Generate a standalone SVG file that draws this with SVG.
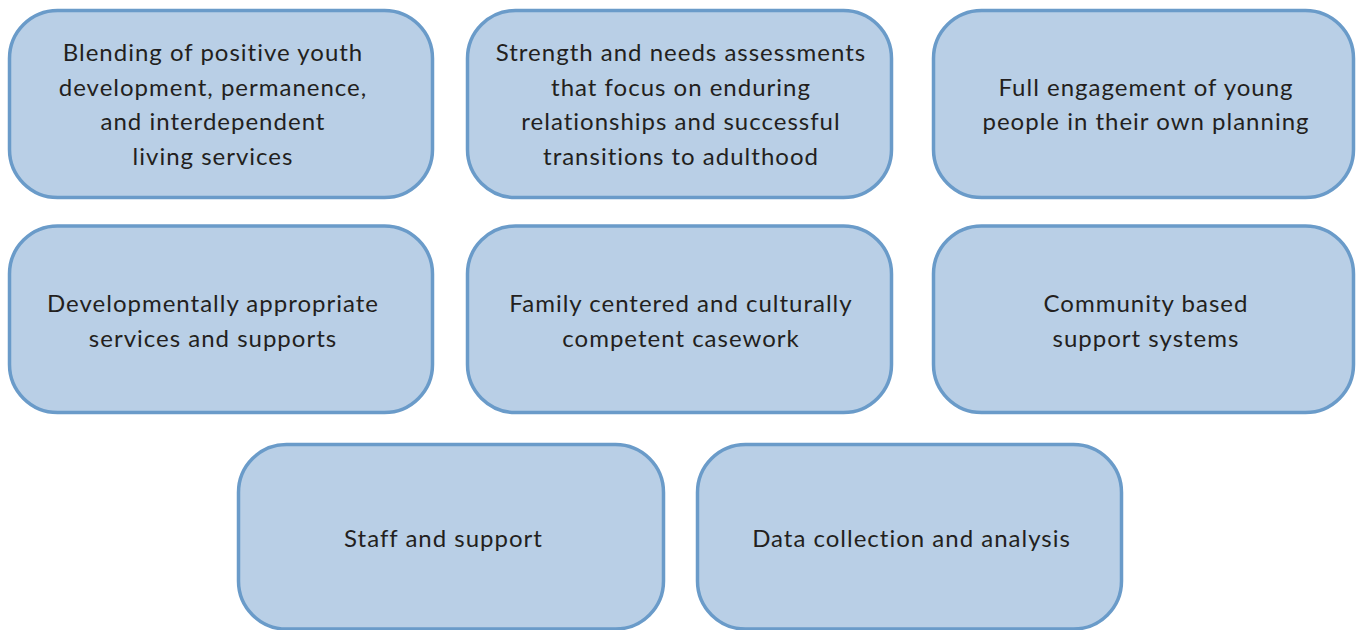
<svg xmlns="http://www.w3.org/2000/svg" width="1356" height="630" viewBox="0 0 1356 630">
<style>
.box{fill:#b9cfe6;stroke:#6a9bc9;stroke-width:3.5}
.t{font-family:Lato,"Liberation Sans",sans-serif;font-size:24px;letter-spacing:1px;fill:#231f20;text-anchor:middle}
</style>
<rect width="1356" height="630" fill="#ffffff"/>
<g id="n1"><rect class="box" x="9.5" y="10.5" width="423" height="187" rx="48"/>
<text class="t"><tspan x="213" y="61">Blending of positive youth</tspan><tspan x="213" y="96">development, permanence,</tspan><tspan x="213" y="130">and interdependent</tspan><tspan x="213" y="165">living services</tspan></text></g>
<g id="n2"><rect class="box" x="467.5" y="10.5" width="424" height="187" rx="48"/>
<text class="t"><tspan x="681" y="61">Strength and needs assessments</tspan><tspan x="681" y="96">that focus on enduring</tspan><tspan x="681" y="130">relationships and successful</tspan><tspan x="681" y="165">transitions to adulthood</tspan></text></g>
<g id="n3"><rect class="box" x="933.5" y="10.5" width="420" height="187" rx="48"/>
<text class="t"><tspan x="1146" y="96">Full engagement of young</tspan><tspan x="1146" y="130">people in their own planning</tspan></text></g>
<g id="n4"><rect class="box" x="9.5" y="226" width="423" height="186.5" rx="48"/>
<text class="t"><tspan x="213" y="312">Developmentally appropriate</tspan><tspan x="213" y="347">services and supports</tspan></text></g>
<g id="n5"><rect class="box" x="467.5" y="226" width="424" height="186.5" rx="48"/>
<text class="t"><tspan x="681" y="312">Family centered and culturally</tspan><tspan x="681" y="347">competent casework</tspan></text></g>
<g id="n6"><rect class="box" x="933.5" y="226" width="420" height="186.5" rx="48"/>
<text class="t"><tspan x="1146" y="312">Community based</tspan><tspan x="1146" y="347">support systems</tspan></text></g>
<g id="n7"><rect class="box" x="238.5" y="444.5" width="425" height="184.5" rx="48"/>
<text class="t"><tspan x="443.5" y="547">Staff and support</tspan></text></g>
<g id="n8"><rect class="box" x="697.5" y="444.5" width="424" height="184.5" rx="48"/>
<text class="t"><tspan x="911.5" y="547">Data collection and analysis</tspan></text></g>
<g id="connectors"/>
</svg>
